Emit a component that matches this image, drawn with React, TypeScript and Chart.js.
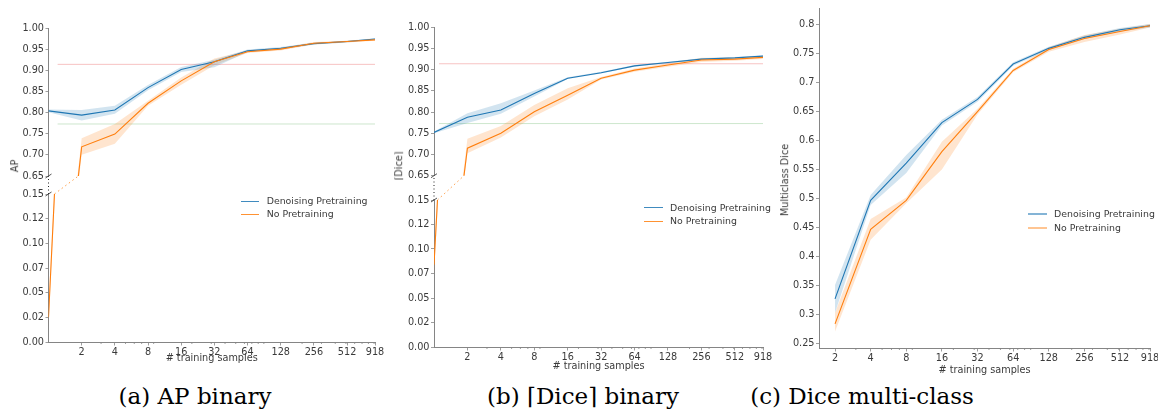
import React, { useEffect, useRef } from "react";
import { Chart, registerables } from "chart.js";

Chart.register(...registerables);

// ---------------- data ----------------
const X_AB = [1, 2, 4, 8, 16, 32, 64, 128, 256, 512, 918];
const X_C = [2, 4, 8, 16, 32, 64, 128, 256, 512, 918];
const X_TICKS = [2, 4, 8, 16, 32, 64, 128, 256, 512, 918];
const X_TICK_LABELS = ["2", "4", "8", "16", "32", "64", "128", "256", "512", "918"];
const X_MINOR = [3, 5, 6, 7, 9, 20, 30, 40, 50, 60, 70, 80, 90, 200, 300, 400, 500, 600, 700, 800, 900];

const Y_TOP_TICKS = [0.65, 0.7, 0.75, 0.8, 0.85, 0.9, 0.95, 1.0];
const Y_TOP_LABELS = ["0.65", "0.70", "0.75", "0.80", "0.85", "0.90", "0.95", "1.00"];
const Y_BOT_TICKS = [0, 0.025, 0.05, 0.075, 0.1, 0.125, 0.15];
const Y_BOT_LABELS = ["0.00", "0.02", "0.05", "0.07", "0.10", "0.12", "0.15"];
const Y_C_TICKS = [0.25, 0.3, 0.35, 0.4, 0.45, 0.5, 0.55, 0.6, 0.65, 0.7, 0.75, 0.8];
const Y_C_LABELS = ["0.25", "0.3", "0.35", "0.4", "0.45", "0.5", "0.55", "0.6", "0.65", "0.7", "0.75", "0.8"];

// (a) AP binary
const A_DENOISE = [0.804, 0.794, 0.806, 0.859, 0.902, 0.92, 0.946, 0.952, 0.963, 0.968, 0.974];
const A_DENOISE_LO = [0.801, 0.781, 0.797, 0.853, 0.896, 0.907, 0.943, 0.949, 0.961, 0.966, 0.972];
const A_DENOISE_HI = [0.807, 0.806, 0.816, 0.865, 0.908, 0.925, 0.949, 0.955, 0.965, 0.97, 0.976];
const A_NOPRE = [0.025, 0.719, 0.749, 0.822, 0.875, 0.92, 0.944, 0.95, 0.964, 0.968, 0.972];
const A_NOPRE_LO = [0.015, 0.7, 0.726, 0.816, 0.866, 0.912, 0.941, 0.947, 0.961, 0.966, 0.97];
const A_NOPRE_HI = [0.035, 0.739, 0.773, 0.828, 0.883, 0.928, 0.947, 0.953, 0.967, 0.97, 0.974];

// (b) Dice binary
const B_DENOISE = [0.752, 0.788, 0.805, 0.844, 0.88, 0.893, 0.909, 0.917, 0.925, 0.928, 0.932];
const B_DENOISE_LO = [0.75, 0.774, 0.796, 0.837, 0.878, 0.891, 0.907, 0.915, 0.923, 0.926, 0.93];
const B_DENOISE_HI = [0.754, 0.797, 0.821, 0.851, 0.882, 0.895, 0.911, 0.919, 0.927, 0.93, 0.934];
const B_NOPRE = [0.084, 0.715, 0.75, 0.801, 0.84, 0.88, 0.899, 0.911, 0.923, 0.925, 0.929];
const B_NOPRE_LO = [0.074, 0.703, 0.74, 0.79, 0.83, 0.877, 0.895, 0.907, 0.918, 0.921, 0.925];
const B_NOPRE_HI = [0.094, 0.737, 0.767, 0.817, 0.856, 0.883, 0.903, 0.915, 0.928, 0.929, 0.932];

// (c) Dice multi-class
const C_DENOISE = [0.326, 0.496, 0.56, 0.63, 0.67, 0.731, 0.758, 0.777, 0.79, 0.797];
const C_DENOISE_LO = [0.302, 0.488, 0.543, 0.625, 0.666, 0.728, 0.755, 0.774, 0.787, 0.794];
const C_DENOISE_HI = [0.35, 0.505, 0.574, 0.635, 0.674, 0.734, 0.761, 0.78, 0.793, 0.8];
const C_NOPRE = [0.283, 0.446, 0.496, 0.58, 0.649, 0.72, 0.756, 0.775, 0.787, 0.797];
const C_NOPRE_LO = [0.27, 0.428, 0.491, 0.549, 0.644, 0.717, 0.752, 0.769, 0.782, 0.794];
const C_NOPRE_HI = [0.302, 0.464, 0.501, 0.597, 0.654, 0.723, 0.76, 0.781, 0.792, 0.8];

// reference lines (a) & (b)
const REF_RED = 0.914;
const REF_GREEN = 0.773;
const REF_X_A = [1.21, 918];
const REF_X_B = [1.11, 918];

const SERIES_NAMES = ["Denoising Pretraining", "No Pretraining"];

// ---------------- style ----------------
const BLUE = "#1f77b4";
const ORANGE = "#ff7f0e";
const BLUE_FILL = "rgba(31,119,180,0.2)";
const ORANGE_FILL = "rgba(255,127,14,0.2)";
const SPINE = "#858585";
const TEXT = "#3a3a3a";
const FONT = "'DejaVu Sans', sans-serif";
const SERIF = "'DejaVu Serif', serif";

type Area = { l: number; t: number; r: number; b: number };
type Spec = {
  area: Area;
  xMin: number;
  xMax: number;
  showX: boolean;
  yMin: number;
  yMax: number;
  yTicks: number[];
  yLabels: string[];
  datasets: any[];
  padTop?: number;
  plugins?: any[];
};

function pts(xs: number[], ys: number[]) {
  return xs.map((x, i) => ({ x, y: ys[i] }));
}

function buildDatasets(
  xs: number[],
  dn: number[], dnLo: number[], dnHi: number[],
  np: number[], npLo: number[], npHi: number[],
  refX?: number[]
) {
  const line = (d: number[], c: string) => ({
    data: pts(xs, d), borderColor: c, borderWidth: 1.1, pointRadius: 0, fill: false,
  });
  const band = (d: number[], fillColor: string, fill: any) => ({
    data: pts(xs, d), borderColor: "rgba(0,0,0,0)", borderWidth: 0, backgroundColor: fillColor,
    pointRadius: 0, fill,
  });
  const ds: any[] = [
    line(np, ORANGE),
    line(dn, BLUE),
    band(dnHi, BLUE_FILL, "+1"),
    band(dnLo, BLUE_FILL, false),
    band(npHi, ORANGE_FILL, "+1"),
    band(npLo, ORANGE_FILL, false),
  ];
  if (refX) {
    ds.push({
      data: refX.map((x) => ({ x, y: REF_RED })), borderColor: "rgba(230,80,80,0.35)",
      borderWidth: 1, pointRadius: 0, fill: false,
    });
    ds.push({
      data: refX.map((x) => ({ x, y: REF_GREEN })), borderColor: "rgba(60,160,60,0.25)",
      borderWidth: 1, pointRadius: 0, fill: false,
    });
  }
  return ds;
}

function minorTicksPlugin(show: boolean) {
  return {
    id: "minorTicks",
    afterDraw(chart: any) {
      if (!show) return;
      const x = chart.scales.x;
      const { ctx, chartArea } = chart;
      ctx.save();
      ctx.strokeStyle = SPINE;
      ctx.lineWidth = 0.8;
      ctx.beginPath();
      for (const v of X_MINOR) {
        if (v < x.min || v > x.max) continue;
        const px = x.getPixelForValue(v);
        ctx.moveTo(px, chartArea.bottom);
        ctx.lineTo(px, chartArea.bottom + 2);
      }
      ctx.stroke();
      ctx.restore();
    },
  };
}

function breakPlugin(gap: number, xs: number[], ys: number[], topMin: number, botMax: number) {
  return {
    id: "axisBreak",
    afterDraw(chart: any) {
      const { ctx, chartArea } = chart;
      const xsc = chart.scales.x;
      const L = chartArea.left;
      const T = chartArea.top;
      const U = T - gap;
      const p0 = xsc.getPixelForValue(xs[0]);
      const p1 = xsc.getPixelForValue(xs[1]);
      const xa = p0 + ((p1 - p0) * (botMax - ys[0])) / (ys[1] - ys[0]);
      const xb = p0 + ((p1 - p0) * (topMin - ys[0])) / (ys[1] - ys[0]);
      ctx.save();
      ctx.lineWidth = 1;
      ctx.setLineDash([1, 2.5]);
      ctx.strokeStyle = "#222";
      ctx.beginPath();
      ctx.moveTo(L, T);
      ctx.lineTo(L, U);
      ctx.stroke();
      ctx.strokeStyle = ORANGE;
      ctx.globalAlpha = 0.75;
      ctx.setLineDash([1.5, 3]);
      ctx.beginPath();
      ctx.moveTo(xa, T);
      ctx.lineTo(xb, U);
      ctx.stroke();
      ctx.globalAlpha = 1;
      ctx.setLineDash([]);
      ctx.strokeStyle = "#444";
      ctx.lineWidth = 0.9;
      ctx.beginPath();
      for (const y of [T, U]) {
        ctx.moveTo(L - 3, y + 2);
        ctx.lineTo(L + 3, y - 2);
      }
      ctx.stroke();
      ctx.restore();
    },
  };
}

function ChartCanvas({ spec }: { spec: Spec }) {
  const ref = useRef<HTMLCanvasElement>(null);
  const { area } = spec;
  const AW = 46;
  const PR = 16;
  const PT = spec.padTop ?? 8;
  const PB = spec.showX ? 22 : 10;
  const cl = Math.floor(area.l - AW);
  const ct = Math.floor(area.t - PT);
  const cw = Math.ceil(area.r + PR) - cl;
  const ch = Math.ceil(area.b + PB) - ct;

  useEffect(() => {
    const canvas = ref.current as HTMLCanvasElement;
    const yW = area.l - cl;
    const padTop = area.t - ct;
    const padRight = cl + cw - area.r;
    const bottomSpace = ct + ch - area.b;
    const tickFont = { family: FONT, size: 9.7 };
    const show = spec.showX;
    const chart = new Chart(canvas, {
      type: "line",
      data: { datasets: spec.datasets },
      options: {
        animation: false,
        responsive: false,
        devicePixelRatio: 1,
        events: [],
        layout: { padding: { top: padTop, right: padRight, left: 0, bottom: 0 } },
        plugins: { legend: { display: false }, tooltip: { enabled: false } },
        elements: { point: { radius: 0 }, line: { tension: 0 } },
        scales: {
          x: {
            type: "logarithmic",
            min: spec.xMin,
            max: spec.xMax,
            display: true,
            afterBuildTicks: (s: any) => {
              s.ticks = X_TICKS.map((v) => ({ value: v }));
            },
            afterFit: (s: any) => {
              s.height = bottomSpace;
            },
            ticks: {
              display: show,
              autoSkip: false,
              maxRotation: 0,
              minRotation: 0,
              padding: 1,
              color: TEXT,
              font: tickFont,
              callback: (_v: any, i: number) => X_TICK_LABELS[i],
            },
            grid: { display: show, drawOnChartArea: false, tickLength: 3.5, tickColor: SPINE, tickWidth: 0.8 },
            border: { display: show, color: SPINE, width: 1 },
          },
          y: {
            type: "linear",
            min: spec.yMin,
            max: spec.yMax,
            afterBuildTicks: (s: any) => {
              s.ticks = spec.yTicks.map((v) => ({ value: v }));
            },
            afterFit: (s: any) => {
              s.width = yW;
            },
            ticks: {
              autoSkip: false,
              padding: 1.5,
              color: TEXT,
              font: tickFont,
              callback: (_v: any, i: number) => spec.yLabels[i],
            },
            grid: { drawOnChartArea: false, tickLength: 3, tickColor: SPINE, tickWidth: 0.8 },
            border: { color: SPINE, width: 1 },
          },
        },
      } as any,
      plugins: [minorTicksPlugin(show), ...(spec.plugins || [])],
    });
    // align the resulting plot area with the intended position
    const ca = chart.chartArea;
    canvas.style.left = Math.round(area.l - ca.left) + "px";
    canvas.style.top = Math.round(area.t - ca.top) + "px";
    return () => chart.destroy();
  }, []);

  return (
    <canvas
      ref={ref}
      width={cw}
      height={ch}
      style={{ position: "absolute", left: cl, top: ct, width: cw, height: ch }}
    />
  );
}

function Legend({ x0, x1, y0, dy, textX, faded }: { x0: number; x1: number; y0: number; dy: number; textX: number; faded?: boolean }) {
  const colors = faded ? ["rgba(31,119,180,0.55)", "rgba(255,127,14,0.45)"] : [BLUE, ORANGE];
  return (
    <>
      {SERIES_NAMES.map((name, i) => (
        <React.Fragment key={name}>
          <div
            style={{
              position: "absolute",
              left: x0,
              top: y0 + i * dy - (faded ? 1 : 0.5),
              width: x1 - x0,
              height: faded ? 2 : 1,
              background: colors[i],
              opacity: faded ? 1 : 0.85,
            }}
          />
          <div
            style={{
              position: "absolute",
              left: textX,
              top: y0 + i * dy - 7,
              height: 14,
              lineHeight: "14px",
              fontFamily: FONT,
              fontSize: 9.4,
              color: TEXT,
              whiteSpace: "nowrap",
            }}
          >
            {name}
          </div>
        </React.Fragment>
      ))}
    </>
  );
}

function Text({ x, y, text, rotate, size, family, color }: { x: number; y: number; text: string; rotate?: boolean; size: number; family: string; color: string }) {
  return (
    <div
      style={{
        position: "absolute",
        left: x,
        top: y,
        transform: `translate(-50%, -50%)${rotate ? " rotate(-90deg)" : ""}`,
        fontFamily: family,
        fontSize: size,
        color,
        whiteSpace: "nowrap",
        lineHeight: 1,
      }}
    >
      {text}
    </div>
  );
}

export default function App() {
  const A_TOP: Area = { l: 48.5, t: 28, r: 375, b: 176 };
  const A_BOT: Area = { l: 48.5, t: 194, r: 375, b: 342 };
  const B_TOP: Area = { l: 434, t: 27.3, r: 763, b: 175.7 };
  const B_BOT: Area = { l: 434, t: 200, r: 763, b: 347 };
  const C_AREA: Area = { l: 819, t: 8, r: 1150, b: 348 };

  const dsA = () => buildDatasets(X_AB, A_DENOISE, A_DENOISE_LO, A_DENOISE_HI, A_NOPRE, A_NOPRE_LO, A_NOPRE_HI, REF_X_A);
  const dsB = () => buildDatasets(X_AB, B_DENOISE, B_DENOISE_LO, B_DENOISE_HI, B_NOPRE, B_NOPRE_LO, B_NOPRE_HI, REF_X_B);
  const dsC = () => buildDatasets(X_C, C_DENOISE, C_DENOISE_LO, C_DENOISE_HI, C_NOPRE, C_NOPRE_LO, C_NOPRE_HI);

  const gapA = A_BOT.t - A_TOP.b;
  const gapB = B_BOT.t - B_TOP.b;

  const specs: Spec[] = [
    { area: A_TOP, xMin: 1, xMax: 918, showX: false, yMin: 0.65, yMax: 1.0, yTicks: Y_TOP_TICKS, yLabels: Y_TOP_LABELS, datasets: dsA() },
    {
      area: A_BOT, xMin: 1, xMax: 918, showX: true, yMin: 0, yMax: 0.15, yTicks: Y_BOT_TICKS, yLabels: Y_BOT_LABELS,
      datasets: dsA(), padTop: gapA + 8, plugins: [breakPlugin(gapA, X_AB, A_NOPRE, 0.65, 0.15)],
    },
    { area: B_TOP, xMin: 1, xMax: 918, showX: false, yMin: 0.65, yMax: 1.0, yTicks: Y_TOP_TICKS, yLabels: Y_TOP_LABELS, datasets: dsB() },
    {
      area: B_BOT, xMin: 1, xMax: 918, showX: true, yMin: 0, yMax: 0.15, yTicks: Y_BOT_TICKS, yLabels: Y_BOT_LABELS,
      datasets: dsB(), padTop: gapB + 8, plugins: [breakPlugin(gapB, X_AB, B_NOPRE, 0.65, 0.15)],
    },
    { area: C_AREA, xMin: 1.464, xMax: 918, showX: true, yMin: 0.2414, yMax: 0.8276, yTicks: Y_C_TICKS, yLabels: Y_C_LABELS, datasets: dsC() },
  ];

  return (
    <div style={{ position: "absolute", left: 0, top: 0, width: 1158, height: 415, background: "#fff", overflow: "hidden" }}>
      {specs.map((s, i) => (
        <ChartCanvas key={i} spec={s} />
      ))}

      <Legend x0={240.7} x1={259.3} y0={201.3} dy={13} textX={266.7} />
      <Legend x0={644} x1={663} y0={207.7} dy={13.3} textX={670} />
      <Legend x0={1028} x1={1047} y0={213.7} dy={14} textX={1054} faded />

      <Text x={15} y={166} text="AP" rotate size={9.7} family={FONT} color={TEXT} />
      <Text x={399} y={166} text="⌈Dice⌉" rotate size={9.7} family={FONT} color={TEXT} />
      <Text x={785} y={180} text="Multiclass Dice" rotate size={9.7} family={FONT} color={TEXT} />

      <Text x={211.7} y={358} text="# training samples" size={9.7} family={FONT} color={TEXT} />
      <Text x={598.5} y={366} text="# training samples" size={9.7} family={FONT} color={TEXT} />
      <Text x={984.5} y={370} text="# training samples" size={9.7} family={FONT} color={TEXT} />

      <Text x={195} y={396} text="(a) AP binary" size={23} family={SERIF} color="#000" />
      <Text x={583} y={396} text="(b) ⌈Dice⌉ binary" size={23} family={SERIF} color="#000" />
      <Text x={862} y={396} text="(c) Dice multi-class" size={23} family={SERIF} color="#000" />
    </div>
  );
}
